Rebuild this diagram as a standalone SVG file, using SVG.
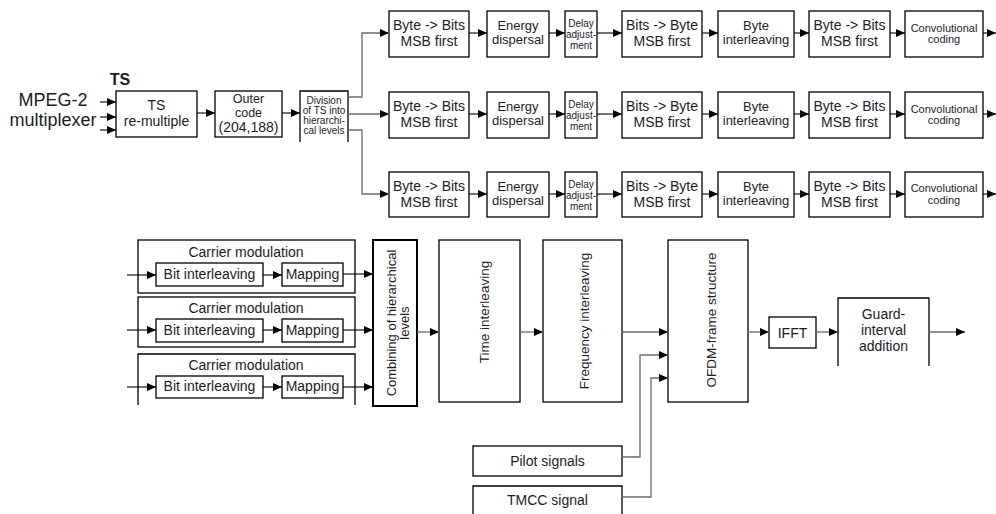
<svg xmlns="http://www.w3.org/2000/svg" width="996" height="514" viewBox="0 0 996 514">
<defs>
<marker id="ah" markerUnits="userSpaceOnUse" markerWidth="10" markerHeight="9" refX="9" refY="4" orient="auto">
<path d="M0,0 L9,4 L0,8 z" fill="#000"/>
</marker>
<style>
text{font-family:"Liberation Sans",Arial,sans-serif;fill:#1c1c28;text-anchor:middle}
.b{fill:#fff;stroke:#000;stroke-width:1.3}
.o{fill:none;stroke:#000;stroke-width:1.3}
.c{fill:none;stroke:#000;stroke-width:1.1;marker-end:url(#ah)}
.g{fill:none;stroke:#6a6a6a;stroke-width:1.3;marker-end:url(#ah)}
.f14{font-size:14px}
.f13{font-size:13px}
.f11{font-size:11px}
.f10{font-size:10px}
</style>
</defs>
<rect width="996" height="514" fill="#fff"/>

<g id="source">
<text x="120" y="85" style="font-size:16px;font-weight:bold">TS</text>
<text x="53" y="106" style="font-size:18px">MPEG-2</text>
<text x="53" y="126" style="font-size:18px">multiplexer</text>
</g>
<g id="ts-remultiple">
<rect class="b" x="116" y="91" width="81" height="46"/>
<text class="f14" x="156.5" y="110">TS</text>
<text class="f14" x="156.5" y="126">re-multiple</text>
</g>
<g id="outer-code">
<rect class="b" x="215" y="91" width="67" height="46"/>
<text x="248.5" y="103" style="font-size:12.5px">Outer</text>
<text x="248.5" y="117" style="font-size:12.5px">code</text>
<text class="f14" x="248.5" y="132">(204,188)</text>
</g>
<g id="division">
<path class="o" d="M300,142 V91 H348 V142"/>
<text class="f10" x="324" y="104">Division</text>
<text class="f10" x="324" y="114">of TS into</text>
<text class="f10" x="324" y="124">hierarchi-</text>
<text class="f10" x="324" y="134">cal levels</text>
</g>

<!-- Row 1 -->
<g id="r1-byte-bits"><rect class="b" x="389" y="11" width="80" height="46"/><text class="f14" x="429" y="30">Byte -&gt; Bits</text><text class="f14" x="429" y="46">MSB first</text></g>
<g id="r1-energy"><rect class="b" x="487" y="11" width="62" height="46"/><text class="f13" x="518" y="30">Energy</text><text class="f13" x="518" y="44">dispersal</text></g>
<g id="r1-delay"><rect class="b" x="565" y="11" width="32" height="46"/><text class="f10" x="581" y="27">Delay</text><text class="f10" x="581" y="38">adjust-</text><text class="f10" x="581" y="49">ment</text></g>
<g id="r1-bits-byte"><rect class="b" x="622" y="11" width="80" height="46"/><text class="f14" x="662" y="30">Bits -&gt; Byte</text><text class="f14" x="662" y="46">MSB first</text></g>
<g id="r1-byte-interleaving"><rect class="b" x="718" y="11" width="76" height="46"/><text class="f13" x="756" y="30">Byte</text><text class="f13" x="756" y="44">interleaving</text></g>
<g id="r1-byte-bits2"><rect class="b" x="809" y="11" width="81" height="46"/><text class="f14" x="849.5" y="30">Byte -&gt; Bits</text><text class="f14" x="849.5" y="46">MSB first</text></g>
<g id="r1-conv"><rect class="b" x="905" y="11" width="78" height="46"/><text class="f11" x="944" y="32">Convolutional</text><text class="f11" x="944" y="43">coding</text></g>

<!-- Row 2 -->
<g id="r2-byte-bits"><rect class="b" x="389" y="92" width="80" height="46"/><text class="f14" x="429" y="111">Byte -&gt; Bits</text><text class="f14" x="429" y="127">MSB first</text></g>
<g id="r2-energy"><rect class="b" x="487" y="92" width="62" height="46"/><text class="f13" x="518" y="111">Energy</text><text class="f13" x="518" y="125">dispersal</text></g>
<g id="r2-delay"><rect class="b" x="565" y="92" width="32" height="46"/><text class="f10" x="581" y="108">Delay</text><text class="f10" x="581" y="119">adjust-</text><text class="f10" x="581" y="130">ment</text></g>
<g id="r2-bits-byte"><rect class="b" x="622" y="92" width="80" height="46"/><text class="f14" x="662" y="111">Bits -&gt; Byte</text><text class="f14" x="662" y="127">MSB first</text></g>
<g id="r2-byte-interleaving"><rect class="b" x="718" y="92" width="76" height="46"/><text class="f13" x="756" y="111">Byte</text><text class="f13" x="756" y="125">interleaving</text></g>
<g id="r2-byte-bits2"><rect class="b" x="809" y="92" width="81" height="46"/><text class="f14" x="849.5" y="111">Byte -&gt; Bits</text><text class="f14" x="849.5" y="127">MSB first</text></g>
<g id="r2-conv"><rect class="b" x="905" y="92" width="78" height="46"/><text class="f11" x="944" y="113">Convolutional</text><text class="f11" x="944" y="124">coding</text></g>

<!-- Row 3 -->
<g id="r3-byte-bits"><rect class="b" x="389" y="172" width="80" height="45"/><text class="f14" x="429" y="191">Byte -&gt; Bits</text><text class="f14" x="429" y="207">MSB first</text></g>
<g id="r3-energy"><rect class="b" x="487" y="172" width="62" height="45"/><text class="f13" x="518" y="191">Energy</text><text class="f13" x="518" y="205">dispersal</text></g>
<g id="r3-delay"><rect class="b" x="565" y="172" width="32" height="45"/><text class="f10" x="581" y="188">Delay</text><text class="f10" x="581" y="199">adjust-</text><text class="f10" x="581" y="210">ment</text></g>
<g id="r3-bits-byte"><rect class="b" x="622" y="172" width="80" height="45"/><text class="f14" x="662" y="191">Bits -&gt; Byte</text><text class="f14" x="662" y="207">MSB first</text></g>
<g id="r3-byte-interleaving"><rect class="b" x="718" y="172" width="76" height="45"/><text class="f13" x="756" y="191">Byte</text><text class="f13" x="756" y="205">interleaving</text></g>
<g id="r3-byte-bits2"><rect class="b" x="809" y="172" width="81" height="45"/><text class="f14" x="849.5" y="191">Byte -&gt; Bits</text><text class="f14" x="849.5" y="207">MSB first</text></g>
<g id="r3-conv"><rect class="b" x="905" y="172" width="78" height="45"/><text class="f11" x="944" y="192">Convolutional</text><text class="f11" x="944" y="204">coding</text></g>

<!-- Carrier modulation -->
<g id="carrier1">
<rect class="b" x="138" y="240" width="217" height="53"/>
<text class="f14" x="246" y="257">Carrier modulation</text>
<rect class="b" x="156" y="263" width="107" height="23"/><text class="f14" x="209.5" y="279">Bit interleaving</text>
<rect class="b" x="282" y="263" width="61" height="23"/><text class="f14" x="312.5" y="279">Mapping</text>
</g>
<g id="carrier2">
<rect class="b" x="138" y="297" width="217" height="50"/>
<text class="f14" x="246" y="313">Carrier modulation</text>
<rect class="b" x="156" y="319" width="107" height="23"/><text class="f14" x="209.5" y="335">Bit interleaving</text>
<rect class="b" x="282" y="319" width="61" height="23"/><text class="f14" x="312.5" y="335">Mapping</text>
</g>
<g id="carrier3">
<path class="o" d="M138,405 V354 H355 V405"/>
<text class="f14" x="246" y="370">Carrier modulation</text>
<rect class="b" x="156" y="376" width="107" height="22"/><text class="f14" x="209.5" y="391">Bit interleaving</text>
<rect class="b" x="282" y="376" width="61" height="22"/><text class="f14" x="312.5" y="391">Mapping</text>
</g>

<g id="combining">
<rect x="373" y="240" width="44" height="166" fill="#fff" stroke="#000" stroke-width="2"/>
<g transform="translate(396,323) rotate(-90)"><text class="f13" x="0" y="0">Combining of hierarchical</text><text class="f13" x="0" y="13">levels</text></g>
</g>
<g id="time-interleaving">
<rect class="b" x="439" y="240" width="81" height="162"/>
<text transform="translate(489,312) rotate(-90)" style="font-size:13.5px">Time interleaving</text>
</g>
<g id="frequency-interleaving">
<rect class="b" x="543" y="240" width="79" height="162"/>
<text transform="translate(589,321) rotate(-90)" style="font-size:13.5px">Frequency interleaving</text>
</g>
<g id="ofdm-frame">
<rect class="b" x="668" y="240" width="80" height="162"/>
<text transform="translate(716,320) rotate(-90)" style="font-size:13.5px">OFDM-frame structure</text>
</g>
<g id="ifft">
<rect class="b" x="769" y="317" width="47" height="31"/>
<text class="f14" x="792.5" y="338">IFFT</text>
</g>
<g id="guard">
<path class="o" d="M838,366 V298 H929 V366"/>
<text class="f14" x="883.5" y="319">Guard-</text>
<text class="f14" x="883.5" y="335">interval</text>
<text class="f14" x="883.5" y="351">addition</text>
</g>
<g id="pilot">
<rect class="b" x="473" y="446" width="149" height="30"/>
<text class="f14" x="547.5" y="466">Pilot signals</text>
</g>
<g id="tmcc">
<path class="o" d="M473,515 V486 H622 V515"/>
<text class="f14" x="547.5" y="505">TMCC signal</text>
</g>

<g id="connectors">
<line class="c" x1="100" y1="102" x2="116" y2="102"/>
<line class="c" x1="100" y1="117" x2="116" y2="117"/>
<line class="c" x1="100" y1="130" x2="116" y2="130"/>
<line class="c" x1="197" y1="113" x2="215" y2="113"/>
<line class="c" x1="282" y1="113" x2="300" y2="113"/>
<polyline class="g" points="348,97 362,97 362,33 389,33"/>
<line class="g" x1="348" y1="114" x2="389" y2="114"/>
<polyline class="g" points="348,130 362,130 362,194 389,194"/>
<line class="c" x1="469" y1="33" x2="487" y2="33"/>
<line class="c" x1="549" y1="33" x2="565" y2="33"/>
<line class="c" x1="597" y1="33" x2="622" y2="33"/>
<line class="c" x1="702" y1="33" x2="718" y2="33"/>
<line class="c" x1="794" y1="33" x2="809" y2="33"/>
<line class="c" x1="890" y1="33" x2="905" y2="33"/>
<line class="c" x1="983" y1="33" x2="996" y2="33"/>
<line class="c" x1="469" y1="114" x2="487" y2="114"/>
<line class="c" x1="549" y1="114" x2="565" y2="114"/>
<line class="c" x1="597" y1="114" x2="622" y2="114"/>
<line class="c" x1="702" y1="114" x2="718" y2="114"/>
<line class="c" x1="794" y1="114" x2="809" y2="114"/>
<line class="c" x1="890" y1="114" x2="905" y2="114"/>
<line class="c" x1="983" y1="114" x2="996" y2="114"/>
<line class="c" x1="469" y1="194" x2="487" y2="194"/>
<line class="c" x1="549" y1="194" x2="565" y2="194"/>
<line class="c" x1="597" y1="194" x2="622" y2="194"/>
<line class="c" x1="702" y1="194" x2="718" y2="194"/>
<line class="c" x1="794" y1="194" x2="809" y2="194"/>
<line class="c" x1="890" y1="194" x2="905" y2="194"/>
<line class="c" x1="983" y1="194" x2="996" y2="194"/>
<line class="c" x1="127" y1="275" x2="156" y2="275"/>
<line class="c" x1="127" y1="330" x2="156" y2="330"/>
<line class="c" x1="127" y1="387" x2="156" y2="387"/>
<line class="c" x1="263" y1="275" x2="282" y2="275"/>
<line class="c" x1="263" y1="330" x2="282" y2="330"/>
<line class="c" x1="263" y1="387" x2="282" y2="387"/>
<line class="c" x1="343" y1="274" x2="373" y2="274"/>
<line class="c" x1="343" y1="330" x2="373" y2="330"/>
<line class="c" x1="343" y1="387" x2="373" y2="387"/>
<line class="g" x1="417" y1="332" x2="439" y2="332"/>
<line class="g" x1="520" y1="332" x2="543" y2="332"/>
<line class="g" x1="622" y1="332" x2="668" y2="332"/>
<polyline class="g" points="622,457 640,457 640,355 668,355"/>
<polyline class="g" points="622,497 651,497 651,378 668,378"/>
<line class="g" x1="748" y1="332" x2="769" y2="332"/>
<line class="g" x1="816" y1="332" x2="838" y2="332"/>
<line class="g" x1="929" y1="332" x2="965" y2="332"/>
</g>
</svg>
